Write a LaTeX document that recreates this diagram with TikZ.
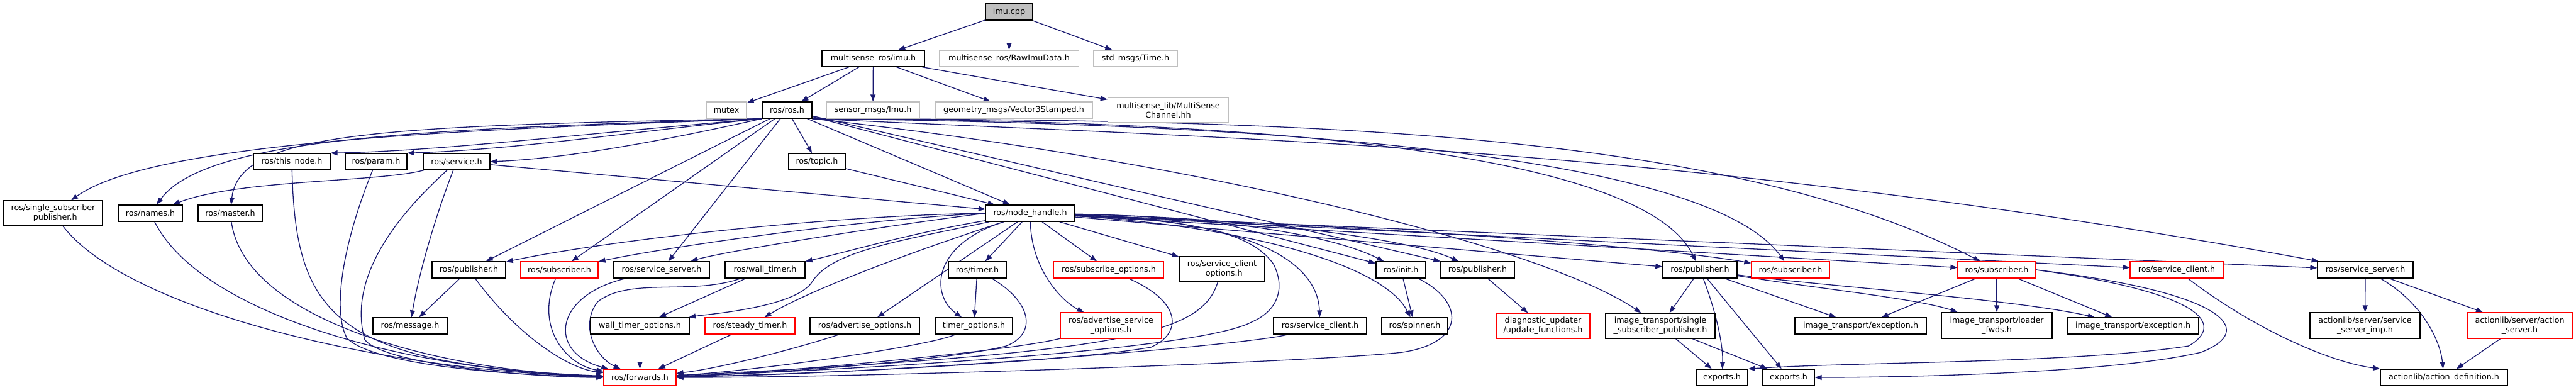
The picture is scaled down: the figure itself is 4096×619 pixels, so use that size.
\documentclass[tikz,border=0pt]{standalone}
\usepackage{fontspec}
\setmainfont{DejaVu Sans}
\usetikzlibrary{arrows.meta}
\definecolor{edgec}{HTML}{191970}
\definecolor{grayb}{HTML}{BFBFBF}
\pgfdeclarelayer{bgl}
\pgfdeclarelayer{edgel}
\pgfsetlayers{bgl,edgel,main}
\begin{document}
\begin{tikzpicture}[x=1pt,y=-1pt,
  box/.style={draw, line width=1.3pt, fill=white, inner sep=0pt, align=center, font=\fontsize{12.7}{14.7}\selectfont},
  nb/.style={box, draw=black},
  ng/.style={box, draw=grayb},
  nr/.style={box, draw=red},
  root/.style={box, draw=black, fill=grayb},
  wh/.style 2 args={minimum width=#1pt, minimum height=#2pt},
  e/.style={draw=edgec, line width=1.3pt, -{Triangle[length=11pt,width=8pt]}},
]
\begin{pgfonlayer}{bgl}
\fill[white] (0,0) rectangle (4096,619);
\end{pgfonlayer}
\useasboundingbox (0,0) rectangle (4096,619);

% ---------- nodes ----------
\node[root, wh={74}{26}] (cpp) at (1604.5,19) {imu.cpp};
\node[nb, wh={163}{26}] (imuh) at (1388.5,93) {multisense\_ros/imu.h};
\node[ng, wh={222}{26}] (raw) at (1604.5,93) {multisense\_ros/RawImuData.h};
\node[ng, wh={133}{26}] (time) at (1805.5,93) {std\_msgs/Time.h};

\node[ng, wh={64}{26}] (mutex) at (1155,175) {mutex};
\node[nb, wh={79}{26}] (rosh) at (1251.5,175) {ros/ros.h};
\node[ng, wh={148}{26}] (imu) at (1388,175) {sensor\_msgs/Imu.h};
\node[ng, wh={250}{26}] (vec) at (1612,175) {geometry\_msgs/Vector3Stamped.h};
\node[ng, wh={192}{40}] (msc) at (1857.5,175) {multisense\_lib/MultiSense\\Channel.hh};

\node[nb, wh={122}{26}] (thisnode) at (464,257) {ros/this\_node.h};
\node[nb, wh={98}{26}] (param) at (598,257) {ros/param.h};
\node[nb, wh={106}{26}] (service) at (726,257) {ros/service.h};
\node[nb, wh={90}{26}] (topic) at (1299,257) {ros/topic.h};

\node[nb, wh={157}{40}] (ssp) at (84.5,339) {ros/single\_subscriber\\\_publisher.h};
\node[nb, wh={102}{26}] (names) at (239,339) {ros/names.h};
\node[nb, wh={102}{26}] (master) at (366,339) {ros/master.h};
\node[nb, wh={141}{26}] (nh) at (1638,339) {ros/node\_handle.h};

\node[nb, wh={117}{26}] (pub1) at (745.5,429) {ros/publisher.h};
\node[nr, wh={123}{26}] (sub1) at (889.5,429) {ros/subscriber.h};
\node[nb, wh={152}{26}] (ss1) at (1052,429) {ros/service\_server.h};
\node[nb, wh={127}{26}] (wt) at (1216.5,429) {ros/wall\_timer.h};
\node[nb, wh={92}{26}] (timer) at (1554,429) {ros/timer.h};
\node[nr, wh={175}{26}] (subopt) at (1763,429) {ros/subscribe\_options.h};
\node[nb, wh={136}{40}] (sco) at (1943,428) {ros/service\_client\\\_options.h};
\node[nb, wh={79}{26}] (init) at (2227.5,429) {ros/init.h};
\node[nb, wh={117}{26}] (pub2) at (2349.5,429) {ros/publisher.h};
\node[nb, wh={118}{26}] (pub3) at (2703,429) {ros/publisher.h};
\node[nr, wh={124}{26}] (sub2) at (2847,429) {ros/subscriber.h};
\node[nr, wh={124}{26}] (sub3) at (3175,429) {ros/subscriber.h};
\node[nr, wh={148}{26}] (sc2) at (3461,429) {ros/service\_client.h};
\node[nb, wh={152}{26}] (ss2) at (3761,429) {ros/service\_server.h};

\node[nb, wh={118}{26}] (msg) at (652,518) {ros/message.h};
\node[nb, wh={157}{26}] (wto) at (1017.5,518) {wall\_timer\_options.h};
\node[nr, wh={143}{26}] (steady) at (1192.5,518) {ros/steady\_timer.h};
\node[nb, wh={174}{26}] (advopt) at (1375,518) {ros/advertise\_options.h};
\node[nb, wh={123}{26}] (topt) at (1548.5,518) {timer\_options.h};
\node[nr, wh={161}{41}] (asopt) at (1766.5,517.5) {ros/advertise\_service\\\_options.h};
\node[nb, wh={148}{26}] (sc1) at (2099,518) {ros/service\_client.h};
\node[nb, wh={105}{26}] (spinner) at (2249.5,518) {ros/spinner.h};
\node[nr, wh={149}{40}] (diag) at (2453.5,518) {diagnostic\_updater\\/update\_functions.h};
\node[nb, wh={174}{40}] (itssp) at (2640,518) {image\_transport/single\\\_subscriber\_publisher.h};
\node[nb, wh={209}{26}] (exc1) at (2958.5,518) {image\_transport/exception.h};
\node[nb, wh={176}{41}] (loader) at (3175,517.5) {image\_transport/loader\\\_fwds.h};
\node[nb, wh={209}{26}] (exc2) at (3391.5,518) {image\_transport/exception.h};
\node[nb, wh={175}{41}] (ssimp) at (3760.5,517.5) {actionlib/server/service\\\_server\_imp.h};
\node[nr, wh={167}{41}] (as) at (4006.5,517.5) {actionlib/server/action\\\_server.h};

\node[nr, wh={115}{26}] (fwd) at (1017.5,600) {ros/forwards.h};
\node[nb, wh={82}{26}] (exp1) at (2738,600) {exports.h};
\node[nb, wh={82}{26}] (exp2) at (2844,600) {exports.h};
\node[nb, wh={202}{26}] (adef) at (3886,600) {actionlib/action\_definition.h};

% ---------- edges ----------
\begin{pgfonlayer}{edgel}
\draw[e] (cpp) -- (imuh);
\draw[e] (cpp) -- (raw);
\draw[e] (cpp) -- (time);
\draw[e] (imuh) -- (mutex);
\draw[e] (imuh) -- (rosh);
\draw[e] (imuh) -- (imu);
\draw[e] (imuh) -- (vec);
\draw[e] (imuh) -- (msc);

% ros.h left
\draw[e] (rosh.south west) .. controls (900,215) and (700,240) .. (thisnode.north east);
\draw[e] (rosh.south west) .. controls (1000,210) and (820,238) .. (param.north east);
\draw[e] (rosh.south west) .. controls (1050,225) and (900,252) .. (service.east);
\draw[e] (rosh.south west) .. controls (800,205) and (250,220) .. (ssp);
\draw[e] (rosh.south west) .. controls (700,205) and (330,215) .. (names);
\draw[e] (rosh.south west) .. controls (600,200) and (380,210) .. (master);
% ros.h down
\draw[e] (rosh) -- (pub1);
\draw[e] (rosh) -- (sub1);
\draw[e] (rosh) -- (ss1);
\draw[e] (rosh) -- (topic);
\draw[e] (rosh) -- (nh);
% ros.h right
\draw[e] (rosh) -- (init);
\draw[e] (rosh) -- (pub2);
\draw[e] (rosh.south east) .. controls (1900,255) and (2450,390) .. (itssp);
\draw[e] (rosh.south east) .. controls (1800,190) and (2600,215) .. (pub3);
\draw[e] (rosh.south east) .. controls (1850,195) and (2700,225) .. (sub2);
\draw[e] (rosh.south east) .. controls (2100,190) and (2750,210) .. (sub3);
\draw[e] (rosh.south east) .. controls (2000,222) and (2700,235) .. (ss2);

% service / topic
\draw[e] (service) .. controls (600,290) and (380,285) .. (names);
\draw[e] (service) .. controls (690,350) and (665,440) .. (msg);
\draw[e] (service) -- (nh);
\draw[e] (topic) -- (nh);

% node_handle
\draw[e] (nh) -- (timer);
\draw[e] (nh) -- (subopt);
\draw[e] (nh) -- (sco);
\draw[e] (nh) -- (advopt);
\draw[e] (nh) -- (pub3);
\draw[e] (nh) -- (sub3);
\draw[e] (nh) -- (sc2);
\draw[e] (nh) -- (ss2);
\draw[e] (nh) .. controls (2300,365) and (2650,395) .. (sub2);
\draw[e] (nh) .. controls (1950,345) and (2120,375) .. (init);
\draw[e] (nh) .. controls (1950,345) and (2230,375) .. (pub2);
\draw[e] (nh) .. controls (1980,360) and (2200,420) .. (spinner);
\draw[e] (nh) .. controls (2000,350) and (2095,420) .. (sc1);
\draw[e] (nh.west) .. controls (1300,343) and (950,385) .. (pub1);
\draw[e] (nh.west) .. controls (1350,350) and (1050,395) .. (sub1);
\draw[e] (nh.west) .. controls (1400,360) and (1150,400) .. (ss1);
\draw[e] (nh) .. controls (1450,370) and (1330,405) .. (wt);
\draw[e] (nh) .. controls (1420,385) and (1320,400) .. (1290,450) .. controls (1260,490) and (1120,500) .. (wto);
\draw[e] (nh) .. controls (1450,400) and (1290,460) .. (steady);
\draw[e] (nh) .. controls (1480,390) and (1480,470) .. (topt);
\draw[e] (nh) .. controls (1640,430) and (1690,480) .. (asopt);
\draw[e] (nh) .. controls (1900,350) and (1990,370) .. (2025,420) .. controls (2045,460) and (2030,495) .. (1990,512) .. controls (1900,560) and (1300,590) .. (fwd);

% into forwards from the right
\draw[e] (wto) -- (fwd);
\draw[e] (steady) -- (fwd);
\draw[e] (advopt) .. controls (1280,550) and (1150,585) .. (fwd);
\draw[e] (topt) .. controls (1480,550) and (1200,590) .. (fwd);
\draw[e] (timer) .. controls (1640,480) and (1650,530) .. (1600,550) .. controls (1500,575) and (1200,595) .. (fwd);
\draw[e] (asopt) .. controls (1600,560) and (1200,595) .. (fwd);
\draw[e] (subopt) .. controls (1880,480) and (1880,530) .. (1830,552) .. controls (1700,575) and (1300,595) .. (fwd);
\draw[e] (sco) .. controls (1910,530) and (1800,560) .. (fwd);
\draw[e] (sc1) .. controls (1980,550) and (1400,595) .. (fwd);
\draw[e] (init) .. controls (2330,480) and (2330,545) .. (2230,560) .. controls (2100,575) and (1400,600) .. (fwd);

% into forwards from the left
\draw[e] (ssp) .. controls (200,490) and (600,590) .. (fwd);
\draw[e] (names) .. controls (320,500) and (650,590) .. (fwd);
\draw[e] (master) .. controls (390,510) and (700,590) .. (fwd);
\draw[e] (thisnode) .. controls (470,500) and (530,580) .. (fwd);
\draw[e] (param) .. controls (540,400) and (530,500) .. (552,538) .. controls (600,585) and (850,598) .. (fwd);
\draw[e] (service) .. controls (590,380) and (560,470) .. (580,540) .. controls (610,580) and (850,600) .. (fwd);
\draw[e] (pub1) .. controls (820,530) and (900,585) .. (fwd);
\draw[e] (sub1) .. controls (850,520) and (900,580) .. (fwd);
\draw[e] (ss1) .. controls (880,470) and (870,560) .. (fwd);
\draw[e] (wt) .. controls (1100,470) and (1000,440) .. (950,480) .. controls (920,520) and (950,570) .. (fwd);

% others
\draw[e] (pub1) -- (msg);
\draw[e] (timer) -- (topt);
\draw[e] (wt) -- (wto);
\draw[e] (init) -- (spinner);
\draw[e] (pub2) -- (diag);
\draw[e] (pub3) -- (itssp);
\draw[e] (pub3) .. controls (2730,500) and (2740,550) .. (exp1);
\draw[e] (pub3) -- (exp2);
\draw[e] (pub3) -- (exc1);
\draw[e] (pub3) .. controls (2900,460) and (3050,475) .. (loader);
\draw[e] (pub3) .. controls (2900,455) and (3200,475) .. (exc2);
\draw[e] (itssp) -- (exp1);
\draw[e] (itssp) -- (exp2);
\draw[e] (sub3) -- (exc1);
\draw[e] (sub3) -- (loader);
\draw[e] (sub3) -- (exc2);
\draw[e] (sub3.east) .. controls (3500,465) and (3540,515) .. (3480,550) .. controls (3300,578) and (2950,575) .. (exp1.north east);
\draw[e] (sub3.east) .. controls (3540,465) and (3590,525) .. (3500,560) .. controls (3350,595) and (3000,600) .. (exp2);
\draw[e] (sc2) .. controls (3580,520) and (3700,575) .. (adef);
\draw[e] (ss2) -- (ssimp);
\draw[e] (ss2) -- (as);
\draw[e] (ss2) .. controls (3850,480) and (3880,540) .. (adef);
\draw[e] (as) -- (adef);
\end{pgfonlayer}
\end{tikzpicture}
\end{document}
